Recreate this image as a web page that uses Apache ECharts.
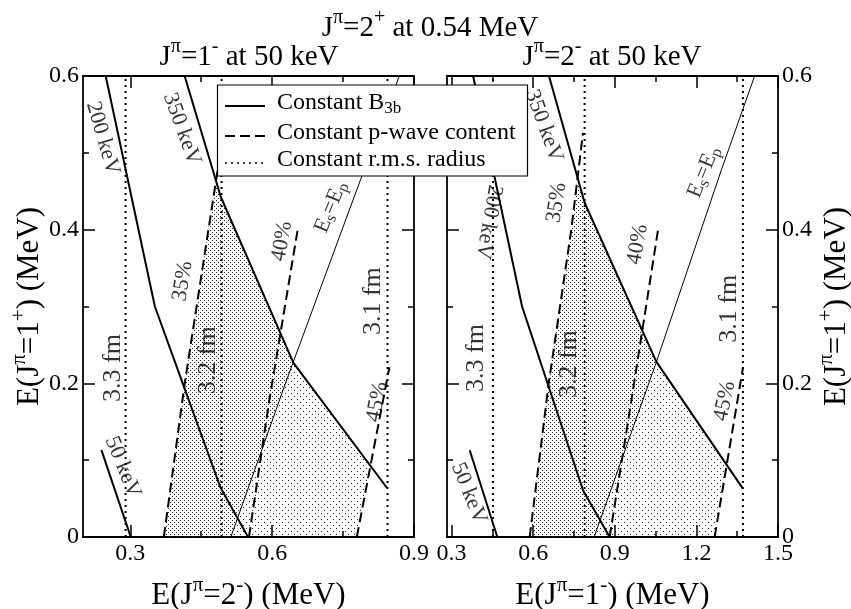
<!DOCTYPE html>
<html>
<head>
<meta charset="utf-8">
<script src="https://cdn.jsdelivr.net/npm/echarts@6/dist/echarts.min.js"></script>
<style>
  html, body { margin: 0; padding: 0; background: #fff; }
  #chart { width: 851px; height: 609px; }
</style>
</head>
<body>
<div id="chart"></div>
<script>
const FONT = "'Liberation Serif', 'Times New Roman', serif";

// left panel: E(2-) on x, E(1+) on y
const leftB200 = [[0.248, 0.6], [0.352, 0.30], [0.491, 0.064], [0.549, 0]];
const leftB350 = [[0.415, 0.6], [0.4915, 0.4425], [0.645, 0.2265], [0.843, 0.0638]];
const leftB50 = [[0.239, 0.113], [0.301, 0]];
const leftP35 = [[0.371, 0], [0.4153, 0.2005], [0.475, 0.4386], [0.497, 0.526]];
const leftP40 = [[0.551, 0], [0.594, 0.178], [0.654, 0.40]];
const leftP45 = [[0.779, 0], [0.848, 0.221]];
const leftEsEp = [[0.5127, 0], [0.6306, 0.2043], [0.771, 0.4386], [0.869, 0.6]];
const leftRadius = [0.290, 0.493, 0.844];
const leftDense = [[0.371, 0], [0.4153, 0.2005], [0.475, 0.4386], [0.4813, 0.4636],
  [0.4915, 0.4425], [0.645, 0.2265], [0.5127, 0]];
const leftLight = [[0.5127, 0], [0.645, 0.2265], [0.8077, 0.0933], [0.779, 0]];

// right panel: E(1-) on x, E(1+) on y
const rightB200 = [[0.379, 0.6], [0.559, 0.30], [0.783, 0.061], [0.881, 0]];
const rightB350 = [[0.658, 0.6], [0.789, 0.435], [1.053, 0.228], [1.371, 0.063]];
const rightB50 = [[0.3665, 0.113], [0.468, 0]];
const rightP35 = [[0.587, 0], [0.657, 0.2], [0.740, 0.40], [0.783, 0.526]];
const rightP40 = [[0.881, 0], [0.961, 0.178], [1.059, 0.40]];
const rightP45 = [[1.267, 0], [1.371, 0.22]];
const rightEsEp = [[0.824, 0], [1.053, 0.228], [1.292, 0.478], [1.414, 0.6]];
const rightRadius = [0.452, 0.789, 1.371];
const rightDense = [[0.587, 0], [0.657, 0.2], [0.740, 0.40], [0.763, 0.4677],
  [0.789, 0.435], [1.053, 0.228], [0.824, 0]];
const rightLight = [[0.824, 0], [1.053, 0.228], [1.3114, 0.0939], [1.267, 0]];

// tick values
const yRange = [0, 0.6];
const leftXRange = [0.2, 0.9];
const rightXRange = [0.283, 1.5];
const leftXMajor = [0.3, 0.6, 0.9];
const leftXMinor = [0.45, 0.75];
const rightXMajor = [0.3, 0.6, 0.9, 1.2, 1.5];
const rightXMinor = [0.45, 0.75, 1.05, 1.35];

// in-plot labels: [x, y, text, rotation]
const leftNotes = [
  [0.2417, 0.519, '200 keV', -74], [0.409, 0.531, '350 keV', -70], [0.284, 0.091, '50 keV', -68],
  [0.411, 0.333, '35%', 81], [0.621, 0.385, '40%', 80], [0.822, 0.176, '45%', 79],
  [0.263, 0.220, '{f|3.3 fm}', 90], [0.464, 0.230, '{f|3.2 fm}', 90], [0.813, 0.307, '{f|3.1 fm}', 90],
  [0.724, 0.4295, '{n|E}{sub|s}{n|=E}{sub|p}', 68]
];
const rightNotes = [
  [0.436, 0.410, '200 keV', -100], [0.639, 0.535, '350 keV', -70], [0.363, 0.057, '50 keV', -68],
  [0.686, 0.435, '35%', 81], [0.984, 0.381, '40%', 80], [1.304, 0.177, '45%', 78],
  [0.392, 0.233, '{f|3.3 fm}', 90], [0.734, 0.225, '{f|3.2 fm}', 90], [1.322, 0.297, '{f|3.1 fm}', 90],
  [1.227, 0.475, '{n|E}{sub|s}{n|=E}{sub|p}', 68]
];

function richSet(size, supSize, shift) {
  return {
    n: { fontFamily: FONT, fontSize: size, color: '#000' },
    f: { fontFamily: FONT, fontSize: size + 4, color: '#000' },
    sup: { fontFamily: FONT, fontSize: supSize, color: '#000', padding: [0, 0, shift * 2, 0] },
    sub: { fontFamily: FONT, fontSize: supSize, color: '#000', padding: [shift * 2, 0, 0, 0] }
  };
}
const titleRich = richSet(29, 20, 10);
const axisNameRich = richSet(31, 21, 10);
const legendRich = richSet(24, 17, 6);
const noteRich = richSet(22, 16, 5);

function makePattern(w, h, dots) {
  const c = document.createElement('canvas');
  c.width = w; c.height = h;
  const ctx = c.getContext('2d');
  ctx.fillStyle = '#222';
  dots.forEach(([x, y]) => ctx.fillRect(x, y, 1, 1));
  return { image: c, repeat: 'repeat' };
}
const densePattern = makePattern(4, 4, [[0, 0], [2, 2]]);
const lightPattern = makePattern(6, 6, [[0, 0], [3, 3]]);

const grids = [
  { left: 83, top: 76, right: 437, bottom: 72, outerBoundsMode: 'none', containLabel: false },
  { left: 447, top: 76, right: 73, bottom: 72, outerBoundsMode: 'none', containLabel: false }
];

const AXIS_LINE = { color: '#000', width: 1.8 };
const TICK_LINE = { color: '#000', width: 1.5 };

function xAxes(gridIndex, range, major, minor, name) {
  const base = {
    gridIndex, type: 'value', min: range[0], max: range[1],
    splitLine: { show: false },
    axisLine: { show: true, lineStyle: AXIS_LINE }
  };
  return [
    Object.assign({}, base, {
      position: 'bottom', name, nameLocation: 'middle', nameGap: 38,
      nameTextStyle: { rich: axisNameRich },
      axisTick: { inside: true, length: 12, customValues: major, lineStyle: TICK_LINE },
      axisLabel: { customValues: major, margin: 5, fontFamily: FONT, fontSize: 24, color: '#000' }
    }),
    Object.assign({}, base, {
      position: 'bottom', axisLine: { show: false }, axisLabel: { show: false },
      axisTick: { inside: true, length: 6, customValues: minor, lineStyle: TICK_LINE }
    }),
    Object.assign({}, base, {
      position: 'top', axisLabel: { show: false },
      axisTick: { inside: true, length: 12, customValues: major, lineStyle: TICK_LINE }
    }),
    Object.assign({}, base, {
      position: 'top', axisLine: { show: false }, axisLabel: { show: false },
      axisTick: { inside: true, length: 6, customValues: minor, lineStyle: TICK_LINE }
    })
  ];
}

function yAxis(gridIndex, position, withLabels) {
  return {
    gridIndex, position, type: 'value', min: yRange[0], max: yRange[1], interval: 0.2,
    name: withLabels ? '{n|E(J}{sup|π}{n|=1}{sup|+}{n|) (MeV)}' : '',
    nameLocation: 'middle', nameRotate: 90, nameGap: position === 'left' ? 30 : 32,
    nameTextStyle: { rich: axisNameRich },
    splitLine: { show: false },
    axisLine: { show: true, lineStyle: AXIS_LINE },
    axisTick: { inside: true, length: 12, lineStyle: TICK_LINE },
    minorTick: { show: true, splitNumber: 2, length: 6, lineStyle: TICK_LINE },
    axisLabel: { show: withLabels, margin: 4, fontFamily: FONT, fontSize: 24, color: '#000' }
  };
}

function lineSeries(data, xi, yi, kind) {
  const styles = {
    solid: { color: '#000', width: 2, type: 'solid' },
    thin: { color: '#000', width: 1, type: 'solid' },
    dashed: { color: '#000', width: 2, type: [10, 5] },
    dotted: { color: '#000', width: 2, type: [2, 4] }
  };
  return {
    type: 'line', xAxisIndex: xi, yAxisIndex: yi, data, symbol: 'none',
    silent: true, animation: false, z: 3, lineStyle: styles[kind]
  };
}

function areaSeries(poly, xi, yi, fill) {
  return {
    type: 'custom', xAxisIndex: xi, yAxisIndex: yi, data: [[0, 0]], silent: true,
    animation: false, z: 1,
    renderItem: (params, api) => ({
      type: 'polygon',
      shape: { points: poly.map(p => api.coord(p)) },
      style: { fill, stroke: null }
    })
  };
}

function noteSeries(notes, xi, yi) {
  return {
    type: 'scatter', xAxisIndex: xi, yAxisIndex: yi, symbolSize: 0, silent: true,
    animation: false, z: 4,
    data: notes.map(n => ({
      value: [n[0], n[1]], name: n[2],
      label: { rotate: n[3] }
    })),
    label: {
      show: true, position: 'inside',
      formatter: p => p.name.startsWith('{') ? p.name : '{n|' + p.name + '}',
      rich: noteRich
    }
  };
}

function panelSeries(d, xi, yi) {
  const out = [
    areaSeries(d.dense, xi, yi, densePattern),
    areaSeries(d.light, xi, yi, lightPattern),
    lineSeries(d.b200, xi, yi, 'solid'),
    lineSeries(d.b350, xi, yi, 'solid'),
    lineSeries(d.b50, xi, yi, 'solid'),
    lineSeries(d.p35, xi, yi, 'dashed'),
    lineSeries(d.p40, xi, yi, 'dashed'),
    lineSeries(d.p45, xi, yi, 'dashed'),
    lineSeries(d.esep, xi, yi, 'thin')
  ];
  d.radius.forEach(r => out.push(lineSeries([[r, yRange[0]], [r, yRange[1]]], xi, yi, 'dotted')));
  out.push(noteSeries(d.notes, xi, yi));
  return out;
}

const series = [].concat(
  panelSeries({ dense: leftDense, light: leftLight, b200: leftB200, b350: leftB350, b50: leftB50,
    p35: leftP35, p40: leftP40, p45: leftP45, esep: leftEsEp, radius: leftRadius, notes: leftNotes }, 0, 0),
  panelSeries({ dense: rightDense, light: rightLight, b200: rightB200, b350: rightB350, b50: rightB50,
    p35: rightP35, p40: rightP40, p45: rightP45, esep: rightEsEp, radius: rightRadius, notes: rightNotes }, 4, 3)
);

const legendRows = [
  { y: 106, dash: null, width: 2, text: '{n|Constant B}{sub|3b}' },
  { y: 136, dash: [10, 5], width: 2, text: '{n|Constant p-wave content}' },
  { y: 163, dash: [2, 4], width: 1.5, text: '{n|Constant r.m.s. radius}' }
];

const graphic = [
  { type: 'text', z: 100, style: { text: '{n|J}{sup|π}{n|=2}{sup|+}{n| at 0.54 MeV}', rich: titleRich,
    x: 430, y: 28, align: 'center', verticalAlign: 'middle' } },
  { type: 'text', z: 100, style: { text: '{n|J}{sup|π}{n|=1}{sup|-}{n| at 50 keV}', rich: titleRich,
    x: 249, y: 57, align: 'center', verticalAlign: 'middle' } },
  { type: 'text', z: 100, style: { text: '{n|J}{sup|π}{n|=2}{sup|-}{n| at 50 keV}', rich: titleRich,
    x: 612, y: 57, align: 'center', verticalAlign: 'middle' } },
  { type: 'rect', z: 100, shape: { x: 217.5, y: 85, width: 310, height: 91 },
    style: { fill: '#fff', stroke: '#000', lineWidth: 1.2 } }
];
legendRows.forEach(r => {
  graphic.push({ type: 'line', z: 101, shape: { x1: 225, y1: r.y, x2: 265, y2: r.y },
    style: { stroke: '#000', lineWidth: r.width, lineDash: r.dash } });
  graphic.push({ type: 'text', z: 101,
    style: { text: r.text, rich: legendRich, x: 277, y: r.y - 3, align: 'left', verticalAlign: 'middle' } });
});

const chart = echarts.init(document.getElementById('chart'), null, { renderer: 'canvas' });
chart.setOption({
  animation: false,
  backgroundColor: '#fff',
  grid: grids,
  xAxis: [].concat(
    xAxes(0, leftXRange, leftXMajor, leftXMinor, '{n|E(J}{sup|π}{n|=2}{sup|-}{n|) (MeV)}'),
    xAxes(1, rightXRange, rightXMajor, rightXMinor, '{n|E(J}{sup|π}{n|=1}{sup|-}{n|) (MeV)}')
  ),
  yAxis: [yAxis(0, 'left', true), yAxis(0, 'right', false), yAxis(1, 'left', false), yAxis(1, 'right', true)],
  series,
  graphic
});
</script>
</body>
</html>
